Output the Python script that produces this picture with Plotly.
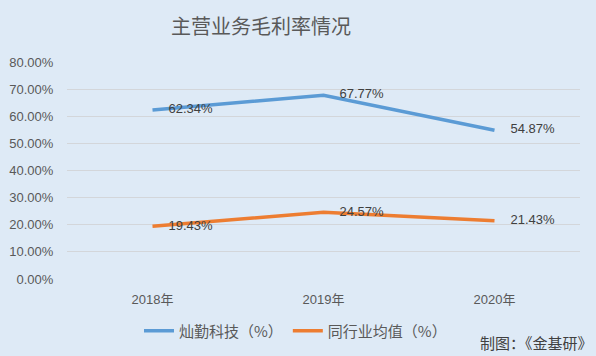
import plotly.graph_objects as go

years = ["2018年", "2019年", "2020年"]
canqin = [62.34, 67.77, 54.87]
peer_avg = [19.43, 24.57, 21.43]
y_ticks = [0, 10, 20, 30, 40, 50, 60, 70, 80]
y_tick_labels = [f"{v:.2f}%" for v in y_ticks]

cjk = "Noto Sans CJK SC, sans-serif"
latin = "Liberation Sans, Noto Sans CJK SC, sans-serif"
bg = "#DEEAF6"

fig = go.Figure()
fig.add_trace(go.Scatter(
    x=years, y=canqin, mode="lines+markers+text", name="灿勤科技（%）",
    line=dict(color="#5B9BD5", width=3.5),
    marker=dict(size=24, color="rgba(0,0,0,0)", line=dict(width=0)),
    text=[f"{v:.2f}%" for v in canqin], textposition="middle right",
    textfont=dict(size=13, color="#404040", family=latin),
    cliponaxis=False,
))
fig.add_trace(go.Scatter(
    x=years, y=peer_avg, mode="lines+markers+text", name="同行业均值（%）",
    line=dict(color="#ED7D31", width=3.5),
    marker=dict(size=24, color="rgba(0,0,0,0)", line=dict(width=0)),
    text=[f"{v:.2f}%" for v in peer_avg], textposition="middle right",
    textfont=dict(size=13, color="#404040", family=latin),
    cliponaxis=False,
))

fig.update_layout(
    width=596, height=356,
    paper_bgcolor=bg, plot_bgcolor=bg,
    margin=dict(l=67, r=16, t=62, b=77, autoexpand=False),
    font=dict(family=cjk, color="#595959", size=13),
    title=dict(text="主营业务毛利率情况", x=261 / 596, xanchor="center", y=1 - 27 / 356, yanchor="middle",
               font=dict(size=20, color="#595959", family=cjk)),
    xaxis=dict(showgrid=False, showline=False, zeroline=False, ticks="outside", ticklen=8,
               tickcolor=bg, tickfont=dict(size=13, color="#595959", family=latin), range=[-0.5, 2.5]),
    yaxis=dict(range=[0, 80], tickvals=y_ticks, ticktext=y_tick_labels,
               showgrid=True, gridcolor="#D3D6DA", gridwidth=1, zeroline=False,
               showline=False, ticks="outside", ticklen=10, tickcolor=bg,
               tickfont=dict(size=13, color="#595959", family=latin)),
    legend=dict(orientation="h", x=(295.5 - 67) / 513, xanchor="center", y=-52 / 217, yanchor="middle",
                font=dict(size=15, color="#595959", family=cjk), bgcolor="rgba(0,0,0,0)",
                itemwidth=30),
    showlegend=True,
)
fig.add_annotation(text="制图：《金基研》", xref="paper", yref="paper", x=1.0, y=-63 / 217,
                   xanchor="right", yanchor="middle", showarrow=False,
                   font=dict(size=15, color="#404040", family=cjk), xshift=15)

fig.write_html("out.html", config={"displayModeBar": False},
               post_script="document.body.style.margin='0';")
